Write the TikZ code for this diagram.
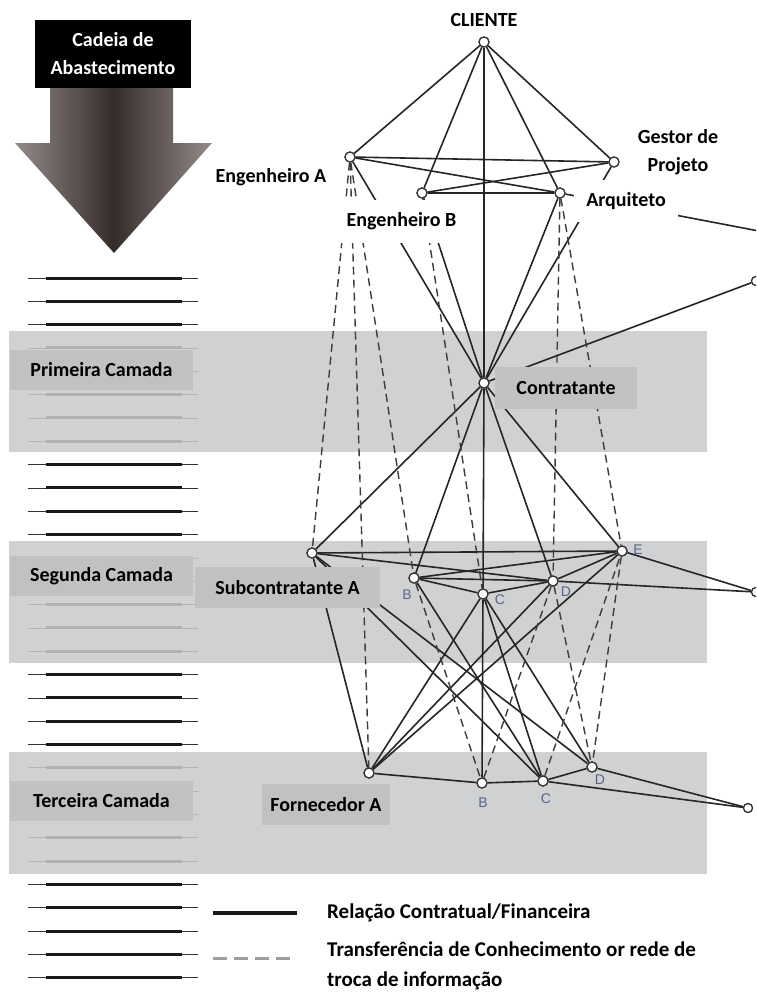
\documentclass[tikz,border=0pt]{standalone}
\usepackage{fontspec}
\setmainfont{Carlito}
\setsansfont{Liberation Sans}
\definecolor{bandgray}{HTML}{C9CACC}
\definecolor{boxgray}{HTML}{C1C1C1}
\definecolor{edgecol}{HTML}{262626}
\definecolor{dashcol}{HTML}{3C3C3C}
\definecolor{arrowedge}{HTML}{948C8A}
\definecolor{arrowmid}{HTML}{352C2A}
\definecolor{lettercol}{HTML}{56658A}
\begin{document}
\begin{tikzpicture}[x=1pt,y=-1pt,
  pt/.style={circle,draw=black!80,fill=white,line width=1.2pt,inner sep=0pt,minimum size=10pt},
  smallpt/.style={pt,minimum size=9pt},
  rel/.style={draw=edgecol,line width=1.6pt},
  info/.style={draw=dashcol,line width=1.4pt,dash pattern=on 8pt off 5pt},
  lbl/.style={font=\bfseries\fontsize{20}{28}\selectfont,inner sep=0pt},
  leglbl/.style={font=\bfseries\fontsize{21}{29.5}\selectfont,inner sep=0pt},
  wbox/.style={lbl,fill=white},
  gbox/.style={lbl,fill=boxgray},
  letter/.style={font=\sffamily\fontsize{14}{14}\selectfont,text=lettercol,inner sep=0pt}
]
\useasboundingbox (0,0) rectangle (756,994);
\clip (0,0) rectangle (756,994);
\fill[white] (0,0) rectangle (756,994);

% tier rulings on the left
\foreach \k in {0,...,30}{
  \pgfmathsetmacro\yy{278+23.33*\k}
  \draw[black!80,line width=0.9pt] (28,\yy) -- (198,\yy);
  \draw[black!90,line width=3pt] (46,\yy) -- (182,\yy);
}

% tier bands
\fill[bandgray,fill opacity=0.86] (9,331) rectangle (707,452);
\fill[bandgray,fill opacity=0.86] (9,541) rectangle (707,663);
\fill[bandgray,fill opacity=0.86] (9,752) rectangle (707,874);

\node[gbox,minimum width=183pt,minimum height=40pt] (t1) at (101.5,370) {Primeira Camada};
\node[gbox,minimum width=183pt,minimum height=40pt] (t2) at (101.5,576) {Segunda Camada};
\node[gbox,minimum width=183pt,minimum height=40pt] (t3) at (101.5,801) {Terceira Camada};

% supply chain arrow
\shade[left color=arrowedge,right color=arrowedge,middle color=arrowmid]
  (50,86) -- (173,86) -- (173,143) -- (212,143) -- (114,253) -- (15,143) -- (50,143) -- cycle;
\node[lbl,fill=black,text=white,minimum width=156pt,minimum height=68pt,align=center]
  (chain) at (113,54) {Cadeia de\\Abastecimento};

% network nodes
\node[pt] (CL) at (484,42) {};
\node[pt] (EA) at (350,157) {};
\node[pt] (GP) at (614,162) {};
\node[pt] (EB) at (422,193) {};
\node[pt] (AR) at (560,193) {};
\node[pt] (CT) at (484,383) {};
\node[pt] (SA) at (312,553) {};
\node[pt] (B2) at (414,578) {};
\node[pt] (C2) at (483,594) {};
\node[pt] (D2) at (553,581) {};
\node[pt] (E2) at (622,551) {};
\node[pt] (F3) at (369,773) {};
\node[pt] (B3) at (482,783) {};
\node[pt] (C3) at (543,781) {};
\node[pt] (D3) at (592,767) {};
\node[smallpt] (R0) at (756,281) {};
\node[smallpt] (R2) at (756,592) {};
\node[smallpt] (R3) at (748,808) {};
\coordinate (RT) at (785,236);

% contractual / financial relations
\foreach \a/\b in {CL/EA,CL/EB,CL/AR,CL/GP,CL/CT,
  EA/GP,EA/AR,EB/GP,EB/AR,
  EA/CT,EB/CT,AR/CT,GP/CT,AR/RT,CT/R0,
  CT/SA,CT/B2,CT/C2,CT/D2,CT/E2,
  SA/E2,SA/D2,B2/C2,B2/D2,B2/E2,C2/D2,D2/E2,E2/R2,D2/R2,
  SA/F3,SA/C3,SA/D3,B2/C3,C2/B3,C2/C3,C2/D3,
  F3/C2,F3/D2,F3/E2,
  F3/B3,B3/C3,C3/D3,C3/R3,D3/R3}
  \draw[rel] (\a) -- (\b);
% knowledge transfer / information exchange
\foreach \a/\b in {EA/SA,EA/F3,EA/B2,EB/C2,AR/D2,AR/E2,
  B2/B3,B3/D2,D2/D3,C3/E2,E2/D3}
  \draw[info] (\a) -- (\b);

% labels over the connectors
\node[wbox,inner sep=3pt] (lCL) at (484,20) {CLIENTE};
\node[wbox,inner sep=3pt] (lEA) at (271,177) {Engenheiro A};
\node[wbox,minimum width=133pt,minimum height=43pt] (lEB) at (401.5,221.5) {Engenheiro B};
\node[wbox,minimum width=104pt,minimum height=42pt] (lAR) at (626,201) {Arquiteto};
\node[wbox,align=center,inner sep=2pt] (lGP) at (678,152) {Gestor de\\Projeto};
\node[gbox,minimum width=142pt,minimum height=42pt] (lCT) at (566,388) {Contratante};
\node[gbox,minimum width=185pt,minimum height=41pt] (lSA) at (287.5,587.5) {Subcontratante A};
\node[gbox,minimum width=128pt,minimum height=41pt] (lF3) at (326,804.5) {Fornecedor A};

% redraw node circles on top
\foreach \n in {CL,EA,GP,EB,AR,CT,SA,B2,C2,D2,E2,F3,B3,C3,D3}
  \node[pt] at (\n) {};
\foreach \n in {R0,R2,R3}
  \node[smallpt] at (\n) {};

% small letters of the actors
\node[letter] (xB2) at (407,595) {B};
\node[letter] (xC2) at (500,600) {C};
\node[letter] (xD2) at (566,592) {D};
\node[letter] (xE2) at (638,550) {E};
\node[letter] (xB3) at (483,803) {B};
\node[letter] (xC3) at (546,799) {C};
\node[letter] (xD3) at (600,780) {D};

% legend
\coordinate (k1a) at (213,913); \coordinate (k1b) at (297,913);
\coordinate (k2a) at (213,958); \coordinate (k2b) at (297,958);
\draw[black!90,line width=3.5pt] (k1a) -- (k1b);
\draw[black!38,line width=3pt,dash pattern=on 14pt off 7pt] (k2a) -- (k2b);
\node[leglbl,anchor=west] (leg1) at (327,913) {Relação Contratual/Financeira};
\node[leglbl,anchor=north west,align=left] (leg2) at (327,942) {Transferência de Conhecimento or rede de\\troca de informação};
\end{tikzpicture}
\end{document}
